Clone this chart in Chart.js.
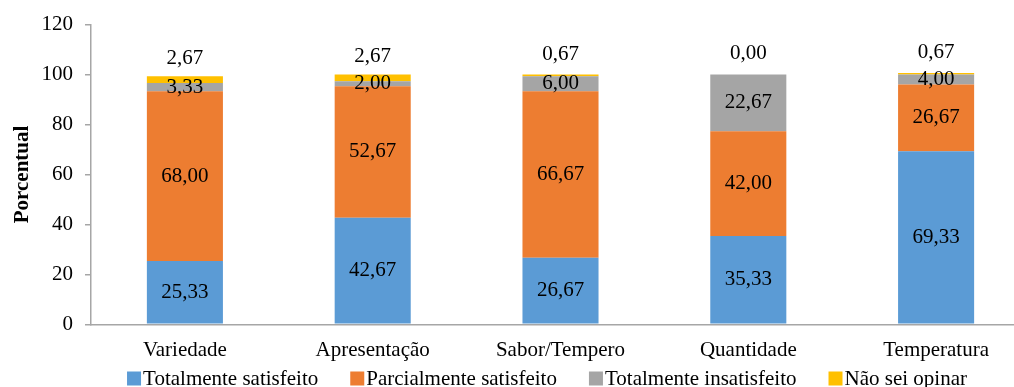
<!DOCTYPE html>
<html>
<head>
<meta charset="utf-8">
<script src="https://cdn.jsdelivr.net/npm/chart.js@4/dist/chart.umd.min.js"></script>
<style>
  html, body { margin: 0; padding: 0; overflow: hidden; background: #fff; }
  #wrap { width: 1030px; height: 387px; position: relative; }
</style>
</head>
<body>
<div id="wrap"><canvas id="c"></canvas></div>
<script>
// Categories and series values (percent)
const categories = ['Variedade', 'Apresentação', 'Sabor/Tempero', 'Quantidade', 'Temperatura'];
const totalmenteSatisfeito   = [25.33, 42.67, 26.67, 35.33, 69.33];
const parcialmenteSatisfeito = [68.00, 52.67, 66.67, 42.00, 26.67];
const totalmenteInsatisfeito = [3.33, 2.00, 6.00, 22.67, 4.00];
const naoSeiOpinar           = [2.67, 2.67, 0.67, 0.00, 0.67];
const seriesNames = ['Totalmente satisfeito', 'Parcialmente satisfeito', 'Totalmente insatisfeito', 'Não sei opinar'];
const seriesColors = ['#5B9BD5', '#ED7D31', '#A5A5A5', '#FFC000'];
const yMin = 0, yMax = 120, yStep = 20;

const serif = '"Liberation Serif", "Times New Roman", serif';
const axisGray = '#a6a6a6';

// Value labels: centred in each segment, the last series sits above its stack
const valueLabels = {
  id: 'valueLabels',
  afterDatasetsDraw(chart) {
    const ctx = chart.ctx;
    ctx.save();
    ctx.font = '21px ' + serif;
    ctx.fillStyle = '#000';
    ctx.textAlign = 'center';
    ctx.textBaseline = 'middle';
    const last = chart.data.datasets.length - 1;
    chart.data.datasets.forEach((ds, i) => {
      const meta = chart.getDatasetMeta(i);
      meta.data.forEach((bar, j) => {
        const txt = Number(ds.data[j]).toFixed(2).replace('.', ',');
        let y = (bar.y + bar.base) / 2;
        if (i === last) y -= 21;
        ctx.fillText(txt, bar.x, y);
      });
    });
    ctx.restore();
  }
};

// Legend row under the axis labels
const bottomLegend = {
  id: 'bottomLegend',
  afterDraw(chart) {
    const ctx = chart.ctx;
    ctx.save();
    ctx.font = '21px ' + serif;
    ctx.textAlign = 'left';
    ctx.textBaseline = 'alphabetic';
    const box = 14, textGap = 2, itemGap = 32;
    const items = chart.data.datasets.map(d => ({
      label: d.label, color: d.backgroundColor, w: ctx.measureText(d.label).width
    }));
    const total = items.reduce((s, it) => s + box + textGap + it.w, 0) + itemGap * (items.length - 1);
    let x = 547 - total / 2;
    const baseline = 385;
    items.forEach(it => {
      ctx.fillStyle = it.color;
      ctx.fillRect(x, baseline - 13.5, box, box);
      ctx.fillStyle = '#000';
      ctx.fillText(it.label, x + box + textGap, baseline);
      x += box + textGap + it.w + itemGap;
    });
    ctx.restore();
  }
};

const seriesData = [totalmenteSatisfeito, parcialmenteSatisfeito, totalmenteInsatisfeito, naoSeiOpinar];

new Chart(document.getElementById('c'), {
  type: 'bar',
  data: {
    labels: categories,
    datasets: seriesData.map((d, i) => ({
      label: seriesNames[i],
      data: d,
      backgroundColor: seriesColors[i],
      borderWidth: 0,
      barPercentage: 0.405,
      categoryPercentage: 1.0
    }))
  },
  options: {
    responsive: true,
    maintainAspectRatio: false,
    animation: false,
    devicePixelRatio: 1,
    layout: { padding: { top: 23, right: 0, bottom: 9.5, left: 0 } },
    plugins: {
      legend: { display: false },
      tooltip: { enabled: false }
    },
    scales: {
      x: {
        stacked: true,
        grid: { display: true, drawOnChartArea: false, drawTicks: false, color: axisGray },
        border: { display: true, color: axisGray, width: 1.5 },
        ticks: { color: '#000', font: { family: serif, size: 21 }, padding: 14, maxRotation: 0, autoSkip: false }
      },
      y: {
        stacked: true,
        min: yMin,
        max: yMax,
        afterFit(scale) { scale.width = 91; },
        grid: { display: true, drawOnChartArea: false, drawTicks: true, tickLength: 6, color: axisGray, lineWidth: 1.5 },
        border: { display: true, color: axisGray, width: 1.5 },
        ticks: { stepSize: yStep, color: '#000', font: { family: serif, size: 21 }, padding: 12 },
        title: {
          display: true,
          text: 'Porcentual',
          color: '#000',
          font: { family: serif, size: 21, weight: 'bold' },
          padding: { top: 10, bottom: 4 }
        }
      }
    }
  },
  plugins: [valueLabels, bottomLegend]
});
</script>
</body>
</html>
